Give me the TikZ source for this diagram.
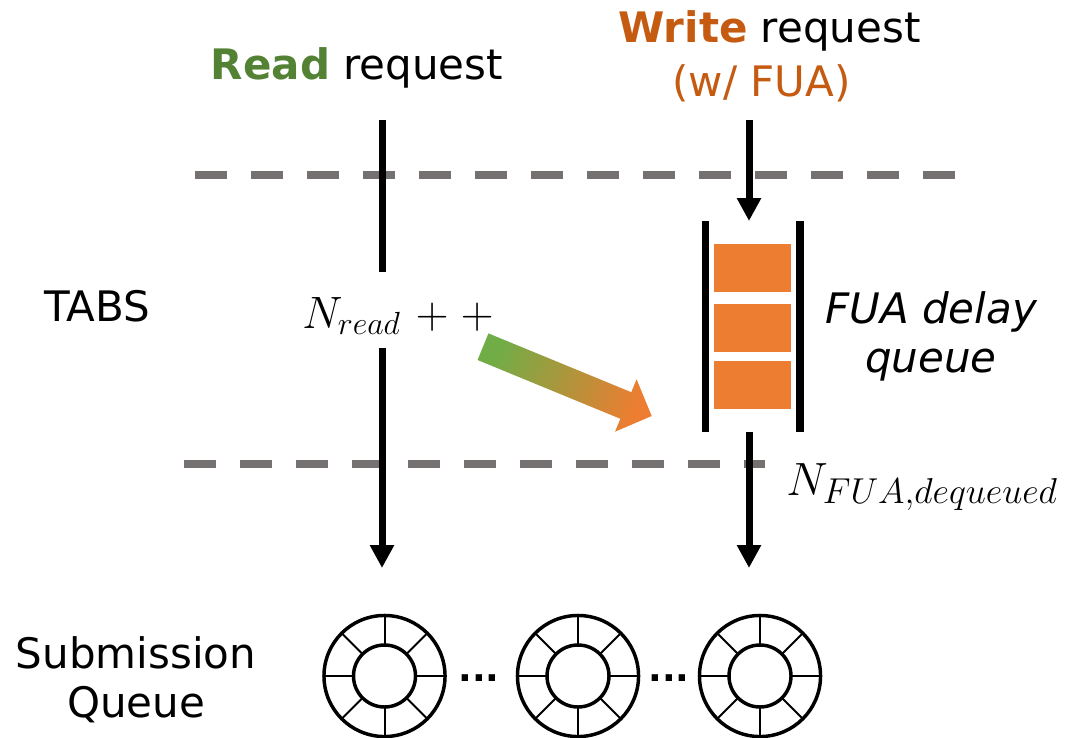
\documentclass[tikz,border=0pt]{standalone}
\usepackage{fix-cm}
\usepackage{fontspec}
\setmainfont{DejaVu Sans}
\DeclareMathSizes{35}{35}{27}{21}
\DeclareMathSizes{34}{34}{24}{19}
\usetikzlibrary{arrows.meta}
\definecolor{dgray}{HTML}{767171}
\definecolor{qorange}{HTML}{ED7D31}
\definecolor{wcol}{HTML}{C55A11}
\definecolor{rcol}{HTML}{548235}
\definecolor{agreen}{HTML}{70AD47}
\begin{document}
\begin{tikzpicture}[x=0.75pt,y=-0.75pt,
  txt/.style={inner sep=0pt, anchor=base, font=\fontsize{31.5}{36}\selectfont},
  itxt/.style={inner sep=0pt, anchor=base, font=\fontsize{31.5}{36}\selectfont\itshape},
  mth/.style={inner sep=0pt, anchor=base west, font=\fontsize{35}{40}\selectfont},
  mths/.style={inner sep=0pt, anchor=base west, font=\fontsize{34}{40}\selectfont},
  dotstxt/.style={inner sep=0pt, anchor=base, font=\fontsize{27}{30}\selectfont\bfseries},
  sepline/.style={draw=dgray, line width=5.6pt, dash pattern=on 24pt off 18pt},
  flow/.style={line width=5.25pt, draw=black},
  arr/.style={flow, -{Triangle[width=17.25pt,length=17.25pt]}},
  qbar/.style={line width=5.8pt, draw=black},
  slot/.style={fill=qorange, draw=none},
  ringline/.style={line width=2.6pt, draw=black},
  spoke/.style={line width=1.5pt, draw=black}]
\useasboundingbox (0,0) rectangle (1066,738);

% separators
\coordinate (s1a) at (195,175); \coordinate (s1b) at (955,175);
\coordinate (s2a) at (184,464); \coordinate (s2b) at (765,464);
\draw[sepline] (s1a) -- (s1b);
\draw[sepline] (s2a) -- (s2b);

% labels
\node[txt] (read) at (357,80) {\textbf{\color{rcol}Read} request};
\node[txt] (write) at (769.5,43) {\textbf{\color{wcol}Write} request};
\node[txt, text=wcol] (fua) at (761.5,97) {(w/ FUA)};
\node[txt] (tabs) at (97.5,321) {TABS};
\node[itxt] (fdq1) at (931,323) {FUA delay};
\node[itxt] (fdq2) at (931,372) {queue};
\node[txt] (sub1) at (136,668) {Submission};
\node[txt] (sub2) at (136,717) {Queue};
\node[mths] (nread) at (302,328) {$N_{read}\mskip6mu{+}\mskip5mu{+}$};
\node[mth] (nfua) at (786,495) {$N_{FUA,dequeued}$};
\node[dotstxt] (dots1) at (479,681) {...};
\node[dotstxt] (dots2) at (669,681) {...};

% read path
\coordinate (rtop) at (382,120); \coordinate (rmid1) at (382,272);
\coordinate (rmid2) at (382,348); \coordinate (rend) at (382,568);
\draw[flow] (rtop) -- (rmid1);
\draw[arr] (rmid2) -- (rend);

% write path
\coordinate (wtop) at (749,120); \coordinate (wq) at (749,221);
\coordinate (wout) at (749,432); \coordinate (wend) at (749,568);
\draw[arr] (wtop) -- (wq);
\draw[arr] (wout) -- (wend);

% FUA delay queue
\coordinate (qlt) at (705.5,221); \coordinate (qlb) at (705.5,432);
\coordinate (qrt) at (800,221); \coordinate (qrb) at (800,432);
\draw[qbar] (qlt) -- (qlb);
\draw[qbar] (qrt) -- (qrb);
\fill[slot] (714,244) rectangle (791,292);
\fill[slot] (714,304) rectangle (791,352);
\fill[slot] (714,361) rectangle (791,409);

% gradient arrow
\shade[left color=agreen, right color=qorange, shading angle=67.7]
  (488.45,333.4) -- (631.25,392.2) -- (636.6,379.3) -- (651.7,416)
  -- (615,431.7) -- (620.35,418.8) -- (477.55,360) -- cycle;

% submission queue rings
\foreach \cx/\nm in {384.5/sq1, 578/sq2, 760/sq3} {
  \coordinate (\nm) at (\cx,676);
  \draw[ringline] (\nm) circle [radius=45.4pt];
  \draw[ringline] (\nm) circle [radius=23.25pt];
  \foreach \a in {0,45,...,315}
    \draw[spoke, shift={(\nm)}] (\a:23.25pt) -- (\a:45.4pt);
}
\end{tikzpicture}
\end{document}
